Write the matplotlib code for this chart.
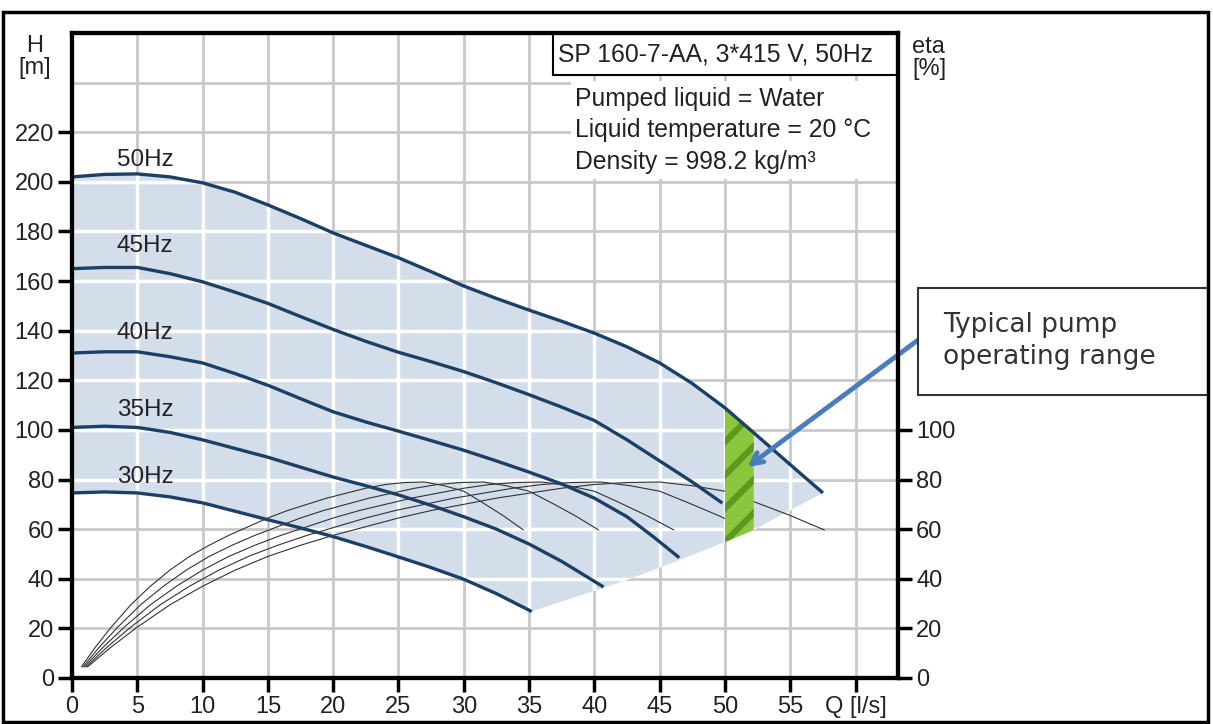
import numpy as np
import matplotlib
matplotlib.use("Agg")
import matplotlib.pyplot as plt
from matplotlib.patches import Polygon, Rectangle

plt.rcParams['font.family'] = ['Liberation Sans', 'DejaVu Sans']
plt.rcParams['hatch.linewidth'] = 4.5

# pump curves H [m] against Q [l/s]
q50 = [0, 2.5, 5, 7.5, 10, 12.5, 15, 17.5, 20, 22.5, 25, 27.5, 30, 32.5, 35, 37.5, 40, 42.5, 45, 47.5, 50, 52.5, 55, 57.5]
h50 = [202, 203, 203.2, 202, 199.6, 195.8, 190.7, 185.2, 179.4, 174.4, 169.4, 163.8, 158, 153, 148.3, 143.8, 139, 133.5, 127, 118.7, 108.9, 97.5, 86, 74.6]
q45 = [0, 2.5, 5, 7.5, 10, 12.5, 15, 17.5, 20, 22.5, 25, 27.5, 30, 32.5, 35, 37.5, 40, 42.5, 45, 47.5, 49.8]
h45 = [165, 165.5, 165.5, 163, 159.7, 155.5, 151, 145.7, 140.5, 135.7, 131.3, 127.5, 123.5, 119, 114.2, 109.2, 103.8, 96, 87.5, 79, 70.5]
q40 = [0, 2.5, 5, 7.5, 10, 12.5, 15, 17.5, 20, 22.5, 25, 27.5, 30, 32.5, 35, 37.5, 40, 42.5, 44.5, 46.5]
h40 = [131, 131.5, 131.5, 129.5, 127, 122.7, 118, 112.6, 107.3, 103.2, 99.5, 95.7, 91.8, 87.5, 83, 78.2, 72.5, 65, 57, 48.5]
q35 = [0, 2.5, 5, 7.5, 10, 12.5, 15, 17.5, 20, 22.5, 25, 27.5, 30, 32.5, 35, 37.5, 40.7]
h35 = [101, 101.5, 101, 99, 96, 92.5, 89, 85, 81, 77.5, 73.8, 69.6, 65, 60, 54, 47, 36.7]
q30 = [0, 2.5, 5, 7.5, 10, 12.5, 15, 17.5, 20, 22.5, 25, 27.5, 30, 32.5, 35.2]
h30 = [74.6, 75, 74.6, 73, 70.6, 67.2, 63.8, 60.5, 57, 53, 48.8, 44.5, 39.8, 34, 26.8]

curve_labels = ['50Hz', '45Hz', '40Hz', '35Hz', '30Hz']
label_h = [209, 174, 139, 108, 81]

# lower edge of the shaded working area
edge_q = [35.2, 42.5, 46, 50, 52.2, 57.5]
edge_h = [26.8, 39.5, 46.5, 54.8, 59.7, 74.6]

# efficiency curves (eta in %, same scale as H)
eta = [4.5, 12.5, 20.5, 29.5, 37, 43.5, 49, 53.5, 57.5, 61, 64.5, 67.5, 70, 72.5, 74.5, 76.5, 78, 78.8, 79, 77.5, 75.3, 70.5, 65.5, 59.7]
eq50 = [1.2, 3, 5, 7.5, 10, 12.5, 15, 17.5, 20, 22.5, 25, 27.5, 30, 32.5, 35, 37.5, 40, 42.5, 45, 47.5, 50, 52.5, 55, 57.6]
eq45 = [1.08, 2.7, 4.5, 6.75, 9, 11.25, 13.5, 15.75, 18, 20.25, 22.5, 24.75, 27, 29.25, 31.5, 33.75, 36, 38.25, 40.5, 42.75, 45, 47.25, 49.5, 51.84]
eq40 = [0.96, 2.4, 4, 6, 8, 10, 12, 14, 16, 18, 20, 22, 24, 26, 28, 30, 32, 34, 36, 38, 40, 42, 44, 46.08]
eq35 = [0.84, 2.1, 3.5, 5.25, 7, 8.75, 10.5, 12.25, 14, 15.75, 17.5, 19.25, 21, 22.75, 24.5, 26.25, 28, 29.75, 31.5, 33.25, 35, 36.75, 38.5, 40.32]
eq30 = [0.72, 1.8, 3, 4.5, 6, 7.5, 9, 10.5, 12, 13.5, 15, 16.5, 18, 19.5, 21, 22.5, 24, 25.5, 27, 28.5, 30, 31.5, 33, 34.56]

# typical operating range
green_q = [50, 50, 52.2, 52.2]
green_h = [54.8, 108.9, 99.5, 59.7]

x_ticks = list(range(0, 61, 5))
x_labels = [str(v) for v in range(0, 56, 5)] + ['Q [l/s]']
y_grid = list(range(0, 241, 20))
y_ticks = list(range(0, 221, 20))
eta_ticks = list(range(0, 101, 20))

W, Hpx = 1213, 724
fig = plt.figure(figsize=(W / 100, Hpx / 100), dpi=100)
ax = fig.add_axes([72 / W, 1 - 678 / Hpx, (898 - 72) / W, (678 - 33) / Hpx])
ax.set_xlim(0, 63.25)
ax.set_ylim(0, 260)

for x in x_ticks:
    ax.axvline(x, color='#c9c9c9', lw=2, zorder=0)
for y in y_grid:
    ax.axhline(y, color='#c9c9c9', lw=2, zorder=0)

shade_x = np.concatenate([q50, edge_q[::-1], q30[::-1]])
shade_y = np.concatenate([h50, edge_h[::-1], h30[::-1]])
shade = Polygon(np.column_stack([shade_x, shade_y]), closed=True, facecolor='#d3deea', edgecolor='none', zorder=1)
ax.add_patch(shade)
for x in x_ticks:
    ln = ax.axvline(x, color='white', lw=2.5, zorder=1.2)
    ln.set_clip_path(shade)
for y in y_grid:
    ln = ax.axhline(y, color='white', lw=2.5, zorder=1.2)
    ln.set_clip_path(shade)

for eq in [eq50, eq45, eq40, eq35, eq30]:
    ax.plot(eq, eta, color='#333333', lw=0.8, zorder=2)

green = Polygon(np.column_stack([green_q, green_h]), closed=True, facecolor='#8cc63f',
                edgecolor='#5a9a1e', hatch='/', lw=0, zorder=2.5)
ax.add_patch(green)

for q, h in [(q50, h50), (q45, h45), (q40, h40), (q35, h35), (q30, h30)]:
    ax.plot(q, h, color='#1c3f66', lw=2.4, zorder=3, solid_capstyle='butt')

for lab, lh in zip(curve_labels, label_h):
    ax.text(5.6, lh, lab, ha='center', va='center', fontsize=17.5, color='#222222', zorder=4)

# title box and liquid info
ax.add_patch(Rectangle((36.8, 243), 63.25 - 36.8, 17, facecolor='white', edgecolor='black', lw=1.5, zorder=5))
ax.text(37.2, 251.5, 'SP 160-7-AA, 3*415 V, 50Hz', ha='left', va='center', fontsize=17.8, color='#222222', zorder=6)
ax.add_patch(Rectangle((38.2, 201), 63.25 - 38.2, 39.8, facecolor='white', edgecolor='none', zorder=5))
info = ['Pumped liquid = Water', 'Liquid temperature = 20 °C', 'Density = 998.2 kg/m³']
for i, t in enumerate(info):
    ax.text(38.5, 233.5 - i * 12.8, t, ha='left', va='center', fontsize=17.8, color='#222222', zorder=6)

for s in ax.spines.values():
    s.set_linewidth(3)
    s.set_color('black')
    s.set_zorder(7)
ax.set_xticks(x_ticks)
ax.set_xticklabels(x_labels)
ax.set_yticks(y_ticks)
ax.tick_params(axis='both', direction='out', length=10, width=2.5, labelsize=17, labelcolor='#222222', pad=3)

ax2 = ax.twinx()
ax2.set_ylim(0, 260)
ax2.set_yticks(eta_ticks)
ax2.tick_params(axis='y', direction='out', length=10, width=2.5, labelsize=17, labelcolor='#222222', pad=3)
for s in ax2.spines.values():
    s.set_linewidth(3)
    s.set_color('black')

fig.text(35 / W, 1 - 57 / Hpx, 'H\n[m]', ha='center', va='center', fontsize=17, color='#222222', linespacing=0.95)
fig.text(912 / W, 1 - 58 / Hpx, 'eta\n[%]', ha='left', va='center', fontsize=17, color='#222222', linespacing=0.95)

# callout
fig.patches.append(Rectangle((918 / W, 1 - 395 / Hpx), (1208 - 918) / W, (395 - 288) / Hpx,
                             transform=fig.transFigure, facecolor='white', edgecolor='#333333', lw=1.5))
fig.text(943 / W, 1 - 341 / Hpx, 'Typical pump\noperating range', ha='left', va='center',
         fontsize=19, family='DejaVu Sans', color='#333333', linespacing=1.3)
ax.annotate('', xy=(51.7, 85), xytext=(64.8, 136.3), annotation_clip=False,
            arrowprops=dict(arrowstyle='->,head_length=0.8,head_width=0.4', color='#4a7cc0', lw=3.5,
                            shrinkA=0, shrinkB=0), zorder=8)

# outer frame
fig.patches.append(Rectangle((3 / W, 2 / Hpx), (1208 - 3) / W, (722 - 12) / Hpx,
                             transform=fig.transFigure, facecolor='none', edgecolor='black', lw=2.5))

fig.savefig('out.png', dpi=100)
